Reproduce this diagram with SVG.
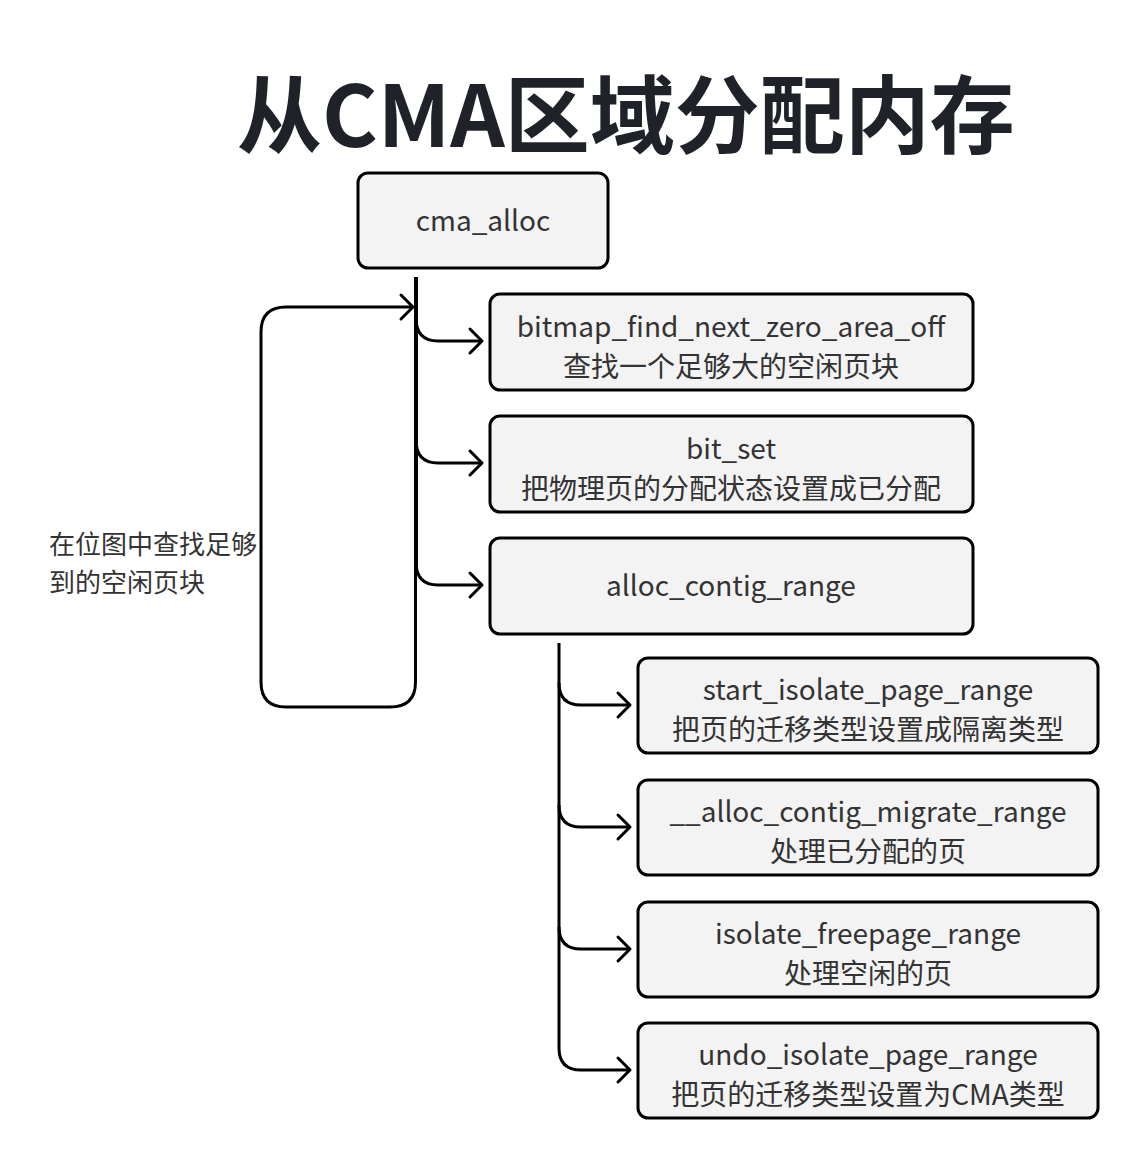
<svg xmlns="http://www.w3.org/2000/svg" width="1148" height="1170" viewBox="0 0 1148 1170">
<style>
.box{fill:#f3f3f3;stroke:#000;stroke-width:3;}
.t{font-family:"Noto Sans CJK SC","Noto Sans",sans-serif;font-size:28px;fill:#333;text-anchor:middle;}
.side{font-family:"Noto Sans CJK SC","Noto Sans",sans-serif;font-size:26px;fill:#333;}
.title{font-family:"Noto Sans CJK SC","Noto Sans",sans-serif;font-size:85px;font-weight:bold;fill:#1f2329;text-anchor:middle;}
.c{fill:none;stroke:#000;stroke-width:3;}
</style>
<defs>
<marker id="ah" markerUnits="userSpaceOnUse" markerWidth="30" markerHeight="30" viewBox="-16 -15 20 30" refX="0" refY="0" orient="auto">
<path d="M-12,-12 L0,0 L-12,12" fill="none" stroke="#000" stroke-width="3" stroke-linecap="round" stroke-linejoin="round"/>
</marker>
<clipPath id="sideclip"><rect x="0" y="500" width="262" height="120"/></clipPath>
</defs>
<text class="title" x="626" y="147">从CMA区域分配内存</text>
<g id="connectors">
<path class="c" d="M416 277 V 575" style="stroke-width:4"/>
<path class="c" d="M416 318 Q416 341 438 341 H482" marker-end="url(#ah)"/>
<path class="c" d="M416 440 Q416 463 438 463 H482" marker-end="url(#ah)"/>
<path class="c" d="M416 562 Q416 585 438 585 H482" marker-end="url(#ah)"/>
<path class="c" d="M415.5 500 V 682 Q415.5 707 390 707 H286 Q261 707 261 682 V 332 Q261 307 286 307 H413" marker-end="url(#ah)"/>
<path class="c" d="M559 643 V 1048 Q559 1070 581 1070 H630" marker-end="url(#ah)"/>
<path class="c" d="M559 683 Q559 705 581 705 H630" marker-end="url(#ah)"/>
<path class="c" d="M559 805 Q559 827 581 827 H630" marker-end="url(#ah)"/>
<path class="c" d="M559 927 Q559 949 581 949 H630" marker-end="url(#ah)"/>
</g>
<g id="side-label">
<g clip-path="url(#sideclip)">
<text class="side" x="49" y="554">在位图中查找足够</text>
</g>
<text class="side" x="49" y="592">到的空闲页块</text>
</g>
<g id="cma_alloc">
<rect class="box" x="358" y="173" width="250" height="95" rx="10"/>
<text class="t" x="483" y="231">cma_alloc</text>
</g>
<g id="bitmap_find">
<rect class="box" x="490" y="294" width="483" height="96" rx="10"/>
<text class="t" x="731" y="337">bitmap_find_next_zero_area_off</text>
<text class="t" x="731" y="377">查找一个足够大的空闲页块</text>
</g>
<g id="bit_set">
<rect class="box" x="490" y="416" width="483" height="96" rx="10"/>
<text class="t" x="731" y="459">bit_set</text>
<text class="t" x="731" y="499">把物理页的分配状态设置成已分配</text>
</g>
<g id="alloc_contig_range">
<rect class="box" x="490" y="538" width="483" height="96" rx="10"/>
<text class="t" x="731" y="596">alloc_contig_range</text>
</g>
<g id="start_isolate">
<rect class="box" x="638" y="658" width="460" height="95" rx="10"/>
<text class="t" x="868" y="700">start_isolate_page_range</text>
<text class="t" x="868" y="740">把页的迁移类型设置成隔离类型</text>
</g>
<g id="alloc_contig_migrate">
<rect class="box" x="638" y="780" width="460" height="95" rx="10"/>
<text class="t" x="868" y="822">__alloc_contig_migrate_range</text>
<text class="t" x="868" y="862">处理已分配的页</text>
</g>
<g id="isolate_freepage">
<rect class="box" x="638" y="902" width="460" height="95" rx="10"/>
<text class="t" x="868" y="944">isolate_freepage_range</text>
<text class="t" x="868" y="984">处理空闲的页</text>
</g>
<g id="undo_isolate">
<rect class="box" x="638" y="1023" width="460" height="95" rx="10"/>
<text class="t" x="868" y="1065">undo_isolate_page_range</text>
<text class="t" x="868" y="1105">把页的迁移类型设置为CMA类型</text>
</g>
</svg>
